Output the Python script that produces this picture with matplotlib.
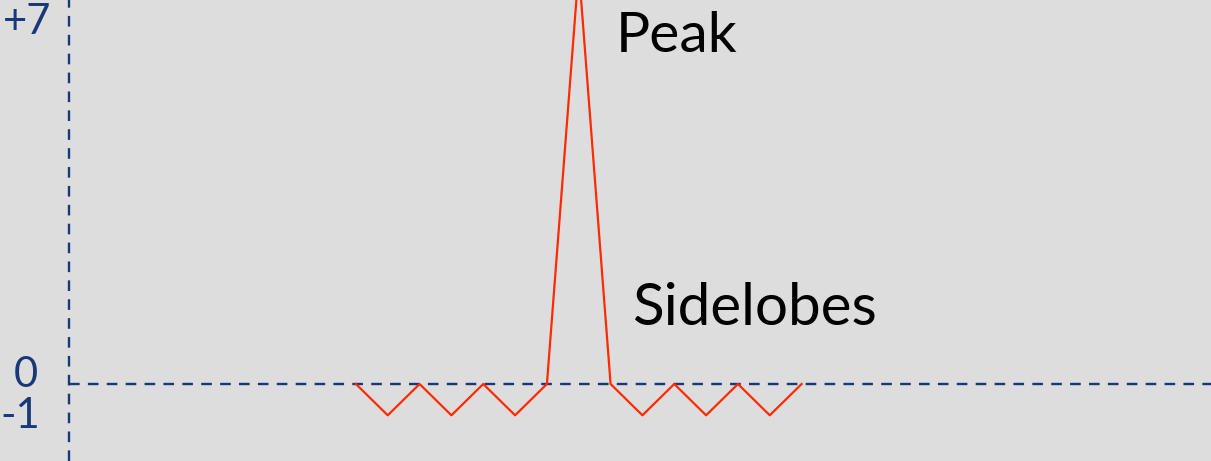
import matplotlib
matplotlib.use('Agg')
import matplotlib.pyplot as plt
import numpy as np

# autocorrelation of a length-7 Barker-like code
lags = [-7, -6, -5, -4, -3, -2, -1, 0, 1, 2, 3, 4, 5, 6, 7]
values = [0, -1, 0, -1, 0, -1, 0, 7, 0, -1, 0, -1, 0, -1, 0]
tick_labels = ['+7', '0', '-1']

bg = '#DDDDDD'
navy = '#183878'
red = '#FF2A00'

# schematic y axis: positive side stretched, negative side compressed
POS, NEG = 59.3, 31.3


def fwd(y):
    y = np.asarray(y, dtype=float)
    return np.where(y >= 0, y * POS, y * NEG)


def inv(y):
    y = np.asarray(y, dtype=float)
    return np.where(y >= 0, y / POS, y / NEG)


fig = plt.figure(figsize=(12.11, 4.61), dpi=100)
fig.patch.set_facecolor(bg)
ax = fig.add_axes([0, 0, 1, 1])
ax.set_facecolor(bg)
ax.set_yscale('function', functions=(fwd, inv))

ax.plot(lags, values, color=red, lw=1.6, zorder=3)

ax.set_xlim(-18.18, 19.86)
ax.set_ylim(-77 / NEG, 384 / POS)

# dashed axes
dash = (0, (4.5, 3.5))
ax.axvline(-16.0, color=navy, lw=1.7, linestyle=dash, zorder=2)
ax.plot([-16.0, 19.86], [0, 0], color=navy, lw=1.7, linestyle=dash, zorder=2)

font = 'Lato'
ax.text(27, 461 - 22, tick_labels[0], transform=None, ha='center', va='center',
        fontsize=30, color=navy, family=font)
ax.text(26, 461 - 375, tick_labels[1], transform=None, ha='center', va='center',
        fontsize=30, color=navy, family=font)
ax.text(20, 461 - 416, tick_labels[2], transform=None, ha='center', va='center',
        fontsize=30, color=navy, family=font)

ax.text(616, 461 - 52, 'Peak', transform=None, ha='left', va='baseline',
        fontsize=41, color='black', family=font)
ax.text(632, 461 - 325, 'Sidelobes', transform=None, ha='left', va='baseline',
        fontsize=42, color='black', family=font)

ax.axis('off')
fig.savefig('out.png', dpi=100, facecolor=bg)
